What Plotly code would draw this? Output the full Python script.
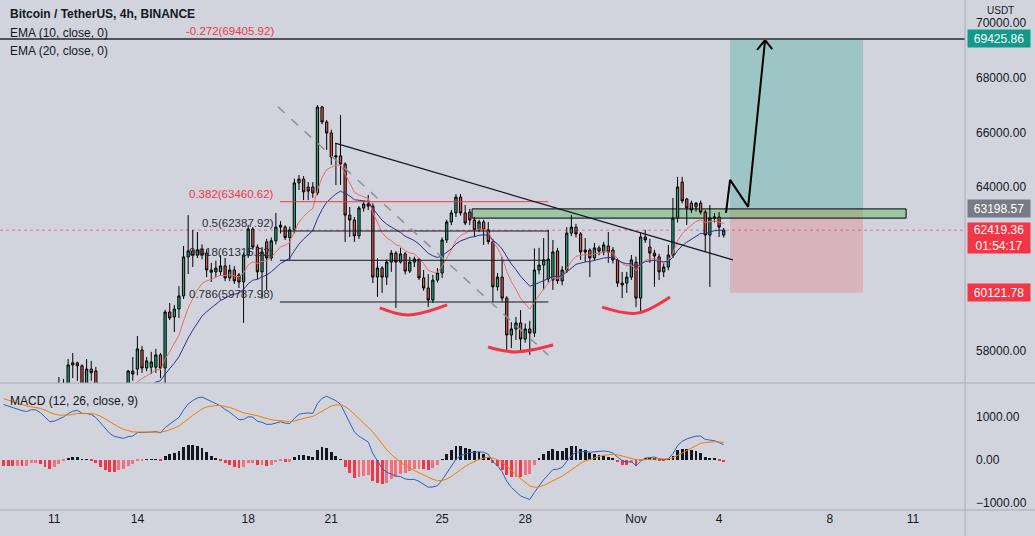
import pandas as pd
import plotly.graph_objects as go

# ---------------- data ----------------
opens = [54400, 54700, 54800, 54900, 55100, 54950, 55300, 56200, 55900, 55300, 54800, 54650,
         55900, 56600, 56800, 57480, 57560, 57450, 56500, 57330, 57260, 56700, 56000, 55500,
         55800, 56000, 56400, 56500, 57260, 57330, 58030, 57370, 57400, 57400, 57850, 57370,
         59420, 59240, 59530, 60010, 61440, 61660, 61500, 61700, 61580, 60960, 60890, 60900,
         61110, 60670, 60960, 60780, 60520, 61510, 62460, 61800, 60890, 61990, 61400, 62030,
         62530, 62530, 62150, 62430, 64150, 64290, 64000, 64000, 63780, 66930, 66380, 65980,
         65100, 65140, 64840, 62970, 62790, 62210, 63230, 63380, 63300, 60700, 61030, 60700,
         61250, 61580, 61250, 61550, 60920, 61250, 61360, 60670, 60300, 59860, 60590, 60850,
         62060, 62720, 63050, 63630, 63050, 63080, 62790, 62430, 62720, 62430, 62000, 60340,
         60700, 59930, 58580, 58800, 59020, 58430, 58800, 58650, 60960, 61140, 60630, 60590,
         61660, 60560, 60960, 62310, 62530, 62280, 61620, 61690, 61400, 61770, 61620, 61840,
         61690, 61330, 60480, 60480, 60700, 61250, 59930, 62170, 61800, 61580, 61440, 60890,
         61070, 61510, 62860, 64180, 63560, 63410, 63270, 63410, 63080, 62240, 62860, 62900,
         62240]
highs = [54900, 55000, 55100, 55300, 55200, 55500, 56400, 56550, 56000, 55500, 55000, 56000,
         57040, 56970, 57700, 57920, 57600, 57500, 57700, 57630, 57410, 56800, 56300, 56000,
         56300, 56600, 56750, 57300, 57770, 58540, 58180, 57770, 57960, 58070, 57920, 59500,
         59750, 59680, 60370, 61840, 62970, 62430, 62350, 61900, 61700, 61220, 61300, 61500,
         61400, 61150, 61100, 60850, 61600, 62610, 62530, 61900, 61800, 62100, 62150, 63050,
         62750, 62600, 62550, 64300, 64440, 64400, 64180, 64180, 67000, 66970, 66450, 66100,
         65610, 66640, 64900, 63270, 62900, 63300, 63500, 63710, 63400, 61400, 61100, 61350,
         61690, 61650, 61770, 61620, 61440, 61450, 61400, 60960, 60810, 60780, 61030, 62150,
         62800, 63160, 63740, 63740, 63340, 63200, 62900, 62800, 62800, 62720, 62100, 60850,
         61440, 60000, 59050, 59240, 59490, 59000, 59100, 61750, 61770, 62130, 62430, 62060,
         61770, 61100, 62530, 62970, 62650, 62350, 62130, 61750, 61950, 61850, 61990, 62350,
         61800, 61400, 60890, 60890, 61510, 61450, 62310, 62430, 62100, 61700, 61550, 61200,
         61880, 63600, 64370, 64370, 63600, 63500, 63450, 63500, 63150, 63340, 63050, 63080,
         62500]
lows = [54200, 54500, 54600, 54700, 54700, 54800, 55200, 55800, 55100, 54600, 54100, 54500,
        55800, 56300, 56600, 57000, 56900, 56300, 56400, 56900, 56500, 55800, 55200, 54800,
        55400, 55700, 56000, 56300, 56900, 57100, 57190, 57250, 57150, 57190, 57000, 56800,
        59130, 58690, 59200, 59900, 60810, 61070, 61400, 61350, 60700, 60520, 60700, 60750,
        60550, 60550, 60450, 60300, 59020, 61400, 61700, 60630, 59900, 60230, 61300, 61900,
        62300, 62060, 61330, 62300, 63890, 63520, 63520, 63600, 63700, 66300, 65360, 64810,
        64070, 64070, 61990, 62170, 61990, 62100, 63100, 63150, 60480, 59970, 60120, 60410,
        60890, 59570, 61200, 60800, 60850, 61070, 60600, 60200, 59600, 59750, 60500, 60670,
        61950, 62600, 62900, 62950, 62600, 62600, 62170, 62350, 61880, 61900, 59790, 60200,
        59800, 58030, 58100, 58400, 58030, 58300, 57850, 58500, 60800, 60230, 60500, 60230,
        60450, 60400, 60850, 62200, 62150, 61330, 61250, 60700, 61300, 61500, 61500, 61220,
        61200, 60340, 59930, 60120, 60600, 59600, 59380, 61950, 61220, 60340, 60590, 60700,
        60950, 61400, 62700, 63400, 62610, 63050, 63100, 63000, 61620, 60340, 62700, 62170,
        62150]
closes = [54700, 54800, 54900, 55100, 54950, 55300, 56200, 55900, 55300, 54800, 54650, 55900,
          56600, 56800, 57480, 57560, 57450, 56500, 57330, 57200, 56700, 56000, 55500, 55800,
          56000, 56400, 56500, 57260, 57150, 58070, 57370, 57630, 57590, 57850, 57370, 59420,
          59200, 59530, 60010, 61440, 61660, 61500, 61700, 61510, 60960, 60880, 61030, 61110,
          60670, 60960, 60560, 60520, 61510, 62460, 61800, 60890, 61620, 61400, 62030, 62530,
          62600, 62150, 62430, 64150, 64290, 63820, 63850, 63780, 66930, 66380, 65980, 65100,
          65140, 64840, 62970, 62790, 62210, 63230, 63380, 63300, 60700, 61030, 60700, 61250,
          61580, 61250, 61550, 60920, 61250, 61360, 60670, 60300, 59860, 60590, 60850, 62060,
          62720, 63050, 63630, 63050, 62680, 62790, 62430, 62720, 62430, 62000, 60340, 60700,
          59930, 58580, 58800, 59020, 58430, 58800, 58650, 60960, 61140, 61330, 61360, 61620,
          60560, 60960, 62310, 62530, 62280, 61620, 61690, 61400, 61770, 61650, 61880, 61620,
          61330, 60480, 60410, 60700, 61330, 59930, 62170, 62060, 61580, 61470, 60890, 61070,
          61510, 62860, 64000, 63490, 63230, 63160, 63410, 63080, 62240, 62860, 62900, 62530,
          62419.36]
first_bar = "2021-10-09 04:00"

# indicator seeds (values at the left edge)
ema10_seed, ema20_seed = 54300, 53600
ema12_seed, ema26_seed, signal_seed = 53950, 52620, 1460

# drawing anchors (time, price)
fib_levels = [(-0.272, 69405.92), (0.382, 63460.62), (0.5, 62387.92), (0.618, 61315.22), (0.786, 59787.98)]
fib_x = ["2021-10-19 03:30", "2021-10-28 20:00"]
fib_diag = (["2021-10-19 01:50", "2021-10-28 20:00"], [66933.3, 57842.6])
trend = (["2021-10-21 03:20", "2021-11-04 12:00"], [65610, 61330])
zone = (["2021-10-26 02:00", "2021-11-10 18:00"], [62860, 63198.57])
pos_x = ["2021-11-04 09:30", "2021-11-09 04:40"]
entry, target, stop = 63198.57, 69425.86, 60121.78
last_price, countdown = 62419.36, "01:54:17"
smiles = [
    (["2021-10-22 18:00", "2021-10-23 18:30", "2021-10-25 04:20"], [59570, 59310, 59680]),
    (["2021-10-26 15:50", "2021-10-27 15:15", "2021-10-29 00:10"], [58140, 57960, 58210]),
    (["2021-10-30 18:40", "2021-11-01 01:00", "2021-11-02 05:30"], [59600, 59380, 59970]),
]
arrow_path = (["2021-11-04 06:00", "2021-11-04 09:30", "2021-11-05 01:10", "2021-11-05 15:50"],
              [63050, 64260, 63270, 69380])
arrow_head = (["2021-11-05 08:55", "2021-11-05 15:50", "2021-11-05 22:00"], [69020, 69380, 69050])

tick_days = ["2021-10-11", "2021-10-14", "2021-10-18", "2021-10-21", "2021-10-25", "2021-10-28",
             "2021-11-01", "2021-11-04", "2021-11-08", "2021-11-11"]
tick_text = ["11", "14", "18", "21", "25", "28", "Nov", "4", "8", "11"]
price_ticks = [58000, 64000, 66000, 68000, 70000]
macd_ticks = [-1000, 0, 1000]

# ---------------- derived ----------------
times = pd.date_range(first_bar, periods=len(closes), freq="4h")


def ema(vals, n, seed):
    a = 2 / (n + 1)
    e, out = seed, []
    for v in vals:
        e = a * v + (1 - a) * e
        out.append(e)
    return out


ema10 = ema(closes, 10, ema10_seed)
ema20 = ema(closes, 20, ema20_seed)
e12 = ema(closes, 12, ema12_seed)
e26 = ema(closes, 26, ema26_seed)
macd = [a - b for a, b in zip(e12, e26)]
signal = ema(macd, 9, signal_seed)
hist = [m - s for m, s in zip(macd, signal)]
hcol = []
for i, h in enumerate(hist):
    prev = hist[i - 1] if i else h
    if h >= 0:
        hcol.append("#131722")
    else:
        hcol.append("#f23645" if h <= prev else "#f5707b")

BG = "#d1d4dc"
TXT = "#131722"
FONT = "Liberation Sans, Arial, sans-serif"
GREEN, RED = "#26a17b", "#d65454"

fig = go.Figure()
fig.add_trace(go.Candlestick(
    x=times, open=opens, high=highs, low=lows, close=closes,
    increasing=dict(fillcolor=GREEN, line=dict(color="black", width=1)),
    decreasing=dict(fillcolor=RED, line=dict(color="black", width=1)),
    whiskerwidth=0, xaxis="x", yaxis="y", showlegend=False, hoverinfo="skip"))
fig.add_trace(go.Scatter(x=times, y=ema10, mode="lines", line=dict(color="#f06a6a", width=1),
                         xaxis="x", yaxis="y", hoverinfo="skip"))
fig.add_trace(go.Scatter(x=times, y=ema20, mode="lines", line=dict(color="#2c3290", width=1),
                         xaxis="x", yaxis="y", hoverinfo="skip"))

for xs, ys in smiles:
    fig.add_trace(go.Scatter(x=xs, y=ys, mode="lines", line=dict(color="#f23645", width=3, shape="spline"),
                             xaxis="x", yaxis="y", hoverinfo="skip"))
fig.add_trace(go.Scatter(x=arrow_path[0], y=arrow_path[1], mode="lines",
                         line=dict(color="black", width=2), xaxis="x", yaxis="y", hoverinfo="skip"))
fig.add_trace(go.Scatter(x=arrow_head[0], y=arrow_head[1], mode="lines",
                         line=dict(color="black", width=2), xaxis="x", yaxis="y", hoverinfo="skip"))

# MACD pane
fig.add_trace(go.Bar(x=times, y=hist, marker=dict(color=hcol, line=dict(width=0)), width=4 * 3600 * 1000 * 0.62,
                     xaxis="x", yaxis="y2", hoverinfo="skip"))
fig.add_trace(go.Scatter(x=times, y=macd, mode="lines", line=dict(color="#2f5fc0", width=1),
                         xaxis="x", yaxis="y2", hoverinfo="skip"))
fig.add_trace(go.Scatter(x=times, y=signal, mode="lines", line=dict(color="#f57c00", width=1),
                         xaxis="x", yaxis="y2", hoverinfo="skip"))

shapes = []
# long position tool
shapes.append(dict(type="rect", xref="x", yref="y", x0=pos_x[0], x1=pos_x[1], y0=entry, y1=target,
                   fillcolor="rgba(8,153,129,0.25)", line=dict(width=0), layer="below"))
shapes.append(dict(type="rect", xref="x", yref="y", x0=pos_x[0], x1=pos_x[1], y0=stop, y1=entry,
                   fillcolor="rgba(242,54,69,0.2)", line=dict(width=0), layer="below"))
# zone
shapes.append(dict(type="rect", xref="x", yref="y", x0=zone[0][0], x1=zone[0][1], y0=zone[1][0], y1=zone[1][1],
                   fillcolor="rgba(76,175,80,0.4)", line=dict(color="black", width=1), layer="below"))
# last price line (dotted, faint)
shapes.append(dict(type="line", xref="paper", yref="y", x0=0, x1=1, y0=last_price, y1=last_price,
                   line=dict(color="rgba(214,90,105,0.75)", width=1, dash="dot"), layer="below"))
# fib lines
for r, lvl in fib_levels:
    col = "#f23645" if r in (-0.272, 0.382) else TXT
    shapes.append(dict(type="line", xref="x", yref="y", x0=fib_x[0], x1=fib_x[1], y0=lvl, y1=lvl,
                       line=dict(color=col, width=1)))
shapes.append(dict(type="line", xref="x", yref="y", x0=fib_diag[0][0], x1=fib_diag[0][1],
                   y0=fib_diag[1][0], y1=fib_diag[1][1], line=dict(color="#8d9099", width=1.5, dash="dash")))
shapes.append(dict(type="line", xref="x", yref="y", x0=trend[0][0], x1=trend[0][1],
                   y0=trend[1][0], y1=trend[1][1], line=dict(color=TXT, width=1.3)))
# horizontal target line
shapes.append(dict(type="line", xref="paper", yref="y", x0=0, x1=1, y0=target, y1=target,
                   line=dict(color="#50535e", width=2)))
# pane separators
shapes.append(dict(type="line", xref="paper", yref="paper", x0=1, x1=1, y0=-0.06, y1=1,
                   line=dict(color="#a9acb5", width=1)))
for yy in (0.249, 0.0):
    shapes.append(dict(type="line", xref="paper", yref="paper", x0=0, x1=1.08, y0=yy, y1=yy,
                       line=dict(color="#a9acb5", width=1)))

ann = []
ann.append(dict(xref="paper", yref="paper", x=0, y=0.9725, xshift=8, xanchor="left", yanchor="middle",
                text="<b>Bitcoin / TetherUS, 4h, BINANCE</b>", showarrow=False, font=dict(size=12, color=TXT, family=FONT)))
ann.append(dict(xref="paper", yref="paper", x=0, y=0.936, xshift=8, xanchor="left", yanchor="middle",
                text="EMA (10, close, 0)", showarrow=False, font=dict(size=12, color=TXT, family=FONT)))
ann.append(dict(xref="paper", yref="paper", x=0, y=0.900, xshift=8, xanchor="left", yanchor="middle",
                text="EMA (20, close, 0)", showarrow=False, font=dict(size=12, color=TXT, family=FONT)))
ann.append(dict(xref="paper", yref="paper", x=0, y=0.2137, xshift=8, xanchor="left", yanchor="middle",
                text="MACD (12, 26, close, 9)", showarrow=False, font=dict(size=12, color=TXT, family=FONT)))
for r, lvl in fib_levels:
    col = "#f23645" if r in (-0.272, 0.382) else "#2a2e39"
    ann.append(dict(xref="x", yref="y", x=fib_x[0], y=lvl, xanchor="right", yanchor="bottom", xshift=-4,
                    text=f"{r:g}({lvl:.2f})", showarrow=False, font=dict(size=11.5, color=col, family=FONT)))
# axis price labels
for val, col in ((target, "#12998a"), (entry, "#787b86"), (stop, "#f23645")):
    ann.append(dict(xref="paper", yref="y", x=1, y=val, xanchor="left", yanchor="middle", xshift=2,
                    text=f"{val:.2f}", showarrow=False, bgcolor=col, width=60, height=15, borderpad=1,
                    font=dict(size=12, color="white", family=FONT)))
ann.append(dict(xref="paper", yref="y", x=1, y=last_price, xanchor="left", yanchor="top", xshift=2, yshift=8,
                text=f"{last_price:.2f}<br>{countdown}", showarrow=False, bgcolor="#f23645", width=60, height=28,
                borderpad=1, font=dict(size=12, color="white", family=FONT)))
ann.append(dict(xref="paper", yref="paper", x=1, y=1, xanchor="left", yanchor="top", xshift=20, yshift=-3,
                text="USDT", showarrow=False, font=dict(size=10, color=TXT, family=FONT)))

fig.update_layout(
    width=1035, height=536, margin=dict(l=0, r=70, t=0, b=26),
    paper_bgcolor=BG, plot_bgcolor=BG, showlegend=False, bargap=0,
    shapes=shapes, annotations=ann,
    xaxis=dict(type="date", anchor="y2", range=["2021-10-09 00:58", "2021-11-12 21:03"],
               tickvals=tick_days, ticktext=tick_text, showgrid=False, zeroline=False, showline=False,
               ticks="", tickfont=dict(size=12, color=TXT, family=FONT), rangeslider=dict(visible=False)),
    yaxis=dict(domain=[0.249, 1], range=[56820, 70850], side="right", anchor="x", showgrid=False,
               zeroline=False, tickvals=price_ticks, ticktext=[f"{v:.2f}" for v in price_ticks],
               ticks="", ticklabelstandoff=10, tickfont=dict(size=12, color=TXT, family=FONT)),
    yaxis2=dict(domain=[0, 0.247], range=[-1163, 1767], side="right", anchor="x", showgrid=False,
                zeroline=False, tickvals=macd_ticks, ticktext=["\u22121000.00", "0.00", "1000.00"],
                ticks="", ticklabelstandoff=10, tickfont=dict(size=12, color=TXT, family=FONT)),
)
fig.write_html("out.html")
